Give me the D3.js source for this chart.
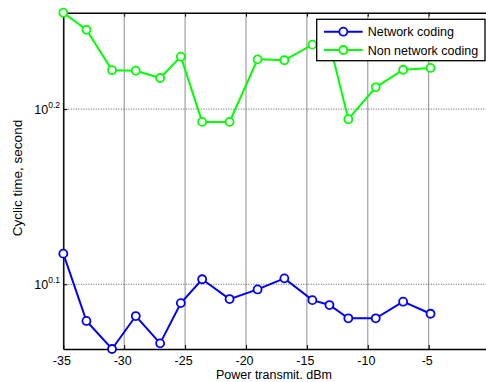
<!DOCTYPE html>
<html><head><meta charset="utf-8">
<script src="https://cdn.jsdelivr.net/npm/d3@7"></script>
<style>
html,body{margin:0;padding:0;background:#fff;}
svg{display:block;font-family:"Liberation Sans",Arial,sans-serif;}
</style></head>
<body>
<svg id="chart" width="486" height="382"></svg>
<script>
// ---- data ----
const powerDbm = [-35, -33.1, -31, -29.05, -27.05, -25.35, -23.6, -21.35, -19.05, -16.85, -14.55, -13.15, -11.6, -9.35, -7.1, -4.85];
const networkCoding = [1.3107, 1.1997, 1.1563, 1.2075, 1.1649, 1.2282, 1.2673, 1.2347, 1.2505, 1.2688, 1.2330, 1.2251, 1.2039, 1.2039, 1.2305, 1.2111];
const nonNetworkCoding = [1.799, 1.759, 1.668, 1.667, 1.651, 1.698, 1.5585, 1.5585, 1.692, 1.690, 1.725, 1.729, 1.564, 1.631, 1.669, 1.673];
const xTicks = [-35, -30, -25, -20, -15, -10, -5];
const yTickExps = ["0.1", "0.2"];
const seriesNames = ["Network coding", "Non network coding"];
const xLimits = [-35, 0];
const yLimits = [1.1563, 1.7990];

const svg = d3.select("#chart");
const L = 63.3, R = 489.6, T = 12.7, B = 349;
const x = d3.scaleLinear().domain(xLimits).range([L, R]);
const y = d3.scaleLog().domain(yLimits).range([B, T]);
const yTickVals = yTickExps.map(e => Math.pow(10, +e));

svg.append("rect").attr("x",0).attr("y",0).attr("width",486).attr("height",382).attr("fill","#fff");

// grid
const grid = svg.append("g");
grid.selectAll("line.vx").data(xTicks).join("line")
  .attr("x1", d => x(d)).attr("x2", d => x(d)).attr("y1", T).attr("y2", B)
  .attr("stroke", "#8c8c8c").attr("stroke-width", 1);
grid.selectAll("line.hy").data(yTickVals).join("line")
  .attr("x1", L).attr("x2", R).attr("y1", d => y(d)).attr("y2", d => y(d))
  .attr("stroke", "#333").attr("stroke-width", 0.8).attr("stroke-dasharray", "1,1.5");

// axes
const fmtNone = () => "";
const xb = svg.append("g").attr("transform", `translate(0,${B})`)
  .call(d3.axisBottom(x).tickValues(xTicks).tickSizeInner(-4).tickSizeOuter(0).tickPadding(7.5).tickFormat(d => d));
const xt = svg.append("g").attr("transform", `translate(0,${T})`)
  .call(d3.axisTop(x).tickValues(xTicks).tickSizeInner(-4).tickSizeOuter(0).tickFormat(fmtNone));
const yl = svg.append("g").attr("transform", `translate(${L},0)`)
  .call(d3.axisLeft(y).tickValues(yTickVals).tickSizeInner(-4).tickSizeOuter(0).tickFormat(fmtNone));
[xb, xt, yl].forEach(g => {
  g.select(".domain").attr("stroke", "#000").attr("stroke-width", 1.4);
  g.selectAll(".tick line").attr("stroke", "#000").attr("stroke-width", 1);
});
xb.selectAll(".tick text").attr("font-size", "12.5px").attr("fill", "#000")
  .attr("font-family", "Liberation Sans, Arial, sans-serif").attr("dx", "-2");

// y tick labels 10^e
const ylab = svg.append("g").attr("font-size", "12.5px").attr("fill", "#000");
yTickExps.forEach((e, i) => {
  const t = ylab.append("text").attr("x", 60).attr("y", y(yTickVals[i]) + 5).attr("text-anchor", "end");
  t.append("tspan").text("10");
  t.append("tspan").attr("font-size", "8.5px").attr("dy", "-6.5").text(e);
});

// lines
const line = d3.line().x(d => x(d[0])).y(d => y(d[1]));
const series = [
  {name: seriesNames[0], vals: networkCoding, color: "#0000ff"},
  {name: seriesNames[1], vals: nonNetworkCoding, color: "#00ff00"}
];
series.forEach(s => {
  const pts = powerDbm.map((p, i) => [p, s.vals[i]]);
  svg.append("path").datum(pts).attr("d", line).attr("fill", "none")
    .attr("stroke", s.color).attr("stroke-width", 2);
  svg.append("g").selectAll("circle").data(pts).join("circle")
    .attr("cx", d => x(d[0])).attr("cy", d => y(d[1])).attr("r", 4)
    .attr("fill", "#fff").attr("stroke", s.color).attr("stroke-width", 1.8);
});

// legend
const lg = svg.append("g");
lg.append("rect").attr("x", 316.7).attr("y", 19.3).attr("width", 168.3).attr("height", 41.4)
  .attr("fill", "#fff").attr("stroke", "#000").attr("stroke-width", 1.3);
series.forEach((s, i) => {
  const yy = 31.7 + i * 18.3;
  lg.append("line").attr("x1", 324).attr("x2", 362.7).attr("y1", yy).attr("y2", yy)
    .attr("stroke", s.color).attr("stroke-width", 2);
  lg.append("circle").attr("cx", 343.3).attr("cy", yy).attr("r", 4)
    .attr("fill", "#fff").attr("stroke", s.color).attr("stroke-width", 1.8);
  lg.append("text").attr("x", 367.7).attr("y", yy + 4.5).attr("font-size", "12.5px")
    .attr("fill", "#000").text(s.name);
});

// axis labels
svg.append("text").attr("x", 274).attr("y", 379).attr("text-anchor", "middle")
  .attr("font-size", "12.5px").attr("fill", "#000").text("Power transmit. dBm");
svg.append("text").attr("transform", "translate(22,178) rotate(-90)").attr("text-anchor", "middle")
  .attr("font-size", "13.5px").attr("fill", "#000").text("Cyclic time, second");
</script>
</body></html>
